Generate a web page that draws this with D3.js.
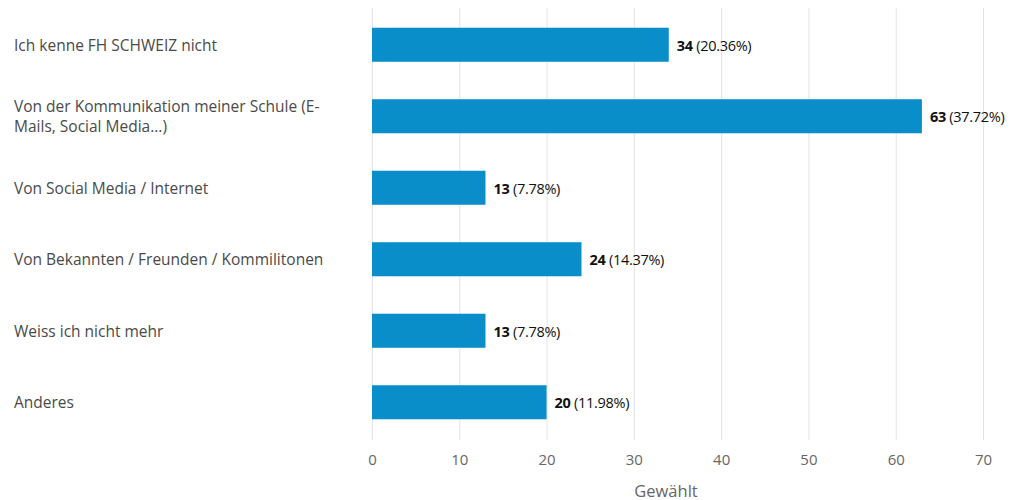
<!DOCTYPE html>
<html>
<head>
<meta charset="utf-8">
<script src="https://cdn.jsdelivr.net/npm/d3@7"></script>
<style>
  html, body { margin: 0; padding: 0; background: #fff; }
  svg { display: block; font-family: "Open Sans", sans-serif; }
</style>
</head>
<body>
<svg id="chart" width="1011" height="500"></svg>
<script>
// Answer options (each entry is a list of lines as displayed)
const categories = [
  ["Ich kenne FH SCHWEIZ nicht"],
  ["Von der Kommunikation meiner Schule (E-", "Mails, Social Media...)"],
  ["Von Social Media / Internet"],
  ["Von Bekannten / Freunden / Kommilitonen"],
  ["Weiss ich nicht mehr"],
  ["Anderes"]
];
const counts = [34, 63, 13, 24, 13, 20];
const percents = ["20.36%", "37.72%", "7.78%", "14.37%", "7.78%", "11.98%"];
const xTicks = [0, 10, 20, 30, 40, 50, 60, 70];
const xTitle = "Gewählt";

const svg = d3.select("#chart");
const plotLeft = 372, plotRight = 983, plotTop = 9, plotBottom = 438;

const x = d3.scaleLinear().domain([0, 70]).range([plotLeft, plotRight]);
const y = d3.scaleBand().domain(d3.range(categories.length)).range([plotTop, plotBottom]).paddingInner(0.524).paddingOuter(0.262);

// vertical gridlines
svg.append("g").selectAll("line").data(xTicks).join("line")
  .attr("x1", d => x(d) + 0.5).attr("x2", d => x(d) + 0.5)
  .attr("y1", 8).attr("y2", 440)
  .attr("stroke", "#e3e3e3").attr("stroke-width", 1);

// x axis tick labels
const xAxis = d3.axisBottom(x).tickValues(xTicks).tickSize(0).tickPadding(0);
const gx = svg.append("g").attr("transform", "translate(0,454)").call(xAxis);
gx.select(".domain").remove();
gx.selectAll("text").attr("font-size", 15).attr("fill", "#666").attr("font-family", "Open Sans, sans-serif");

// axis title
svg.append("text")
  .attr("x", 666).attr("y", 490)
  .attr("dominant-baseline", "central")
  .attr("text-anchor", "middle").attr("font-size", 16.5).attr("fill", "#666")
  .text(xTitle);

// bars
svg.append("g").selectAll("rect").data(counts).join("rect")
  .attr("x", x(0)).attr("y", (d, i) => y(i))
  .attr("width", d => x(d) - x(0)).attr("height", y.bandwidth())
  .attr("fill", "#0a8ec9");

// category labels
const lab = svg.append("g").selectAll("text").data(categories).join("text")
  .attr("x", 14).attr("font-size", 15.5).attr("fill", "#4a4a4a")
  .attr("y", (d, i) => y(i) + y.bandwidth() / 2 - (d.length - 1) * 10)
  .attr("dominant-baseline", "central");
lab.selectAll("tspan").data(d => d).join("tspan")
  .attr("x", 14).attr("dy", (d, j) => j === 0 ? 0 : 20).text(d => d);

// value labels
const vl = svg.append("g").selectAll("text").data(counts).join("text")
  .attr("x", d => x(d) + 8).attr("y", (d, i) => y(i) + y.bandwidth() / 2)
  .attr("dominant-baseline", "central").attr("font-size", 14.5).attr("fill", "#111")
  .attr("letter-spacing", -0.3);
vl.append("tspan").attr("font-weight", "bold").text(d => d);
vl.append("tspan").text((d, i) => " (" + percents[i] + ")");
</script>
</body>
</html>
